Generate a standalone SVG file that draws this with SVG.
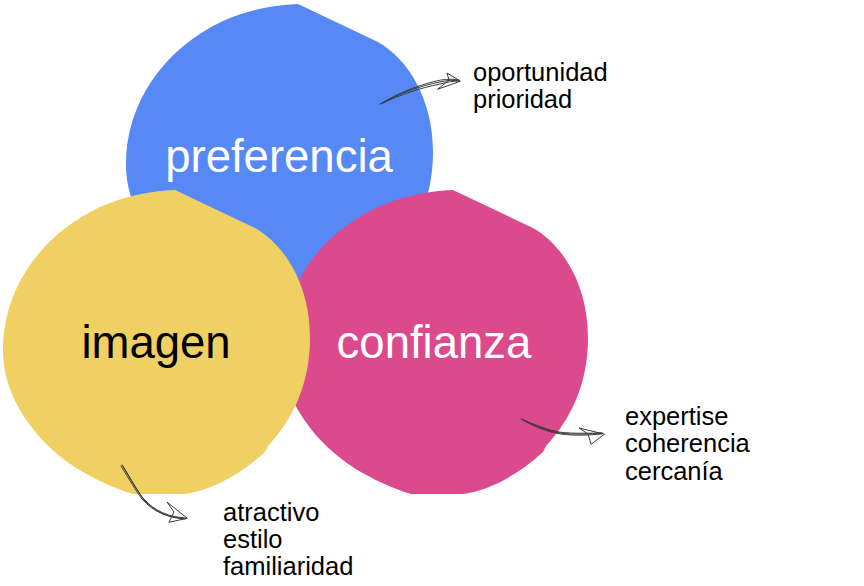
<svg xmlns="http://www.w3.org/2000/svg" width="864" height="586" viewBox="0 0 864 586">
<style>
.big{font-family:"Liberation Sans",Arial,Helvetica,sans-serif;font-size:45.5px;text-anchor:middle}
.small{font-family:"Liberation Sans",Arial,Helvetica,sans-serif;font-size:25.5px;fill:#000}
.sk{fill:none;stroke:#3a3a3a;stroke-width:1;stroke-linecap:round;stroke-linejoin:round}
</style>
<defs>
<path id="blob" d="M175,190 L255,228 C285,245 310,285 310,338 C310,385 292,420 268,446 L265,452 C240,475 212,490 185,494 L133,494 C95,482 55,460 30,425 C8,395 3,370 3,350 C3,290 40,235 100,207 C125,196 150,191 175,190 Z"/>
</defs>
<rect width="864" height="586" fill="#fff"/>
<g id="preferencia">
<use href="#blob" transform="translate(123,-186)" fill="#5689F5"/>
<text class="big" x="279" y="172" fill="#fff">preferencia</text>
</g>
<g id="confianza">
<use href="#blob" transform="translate(278,0)" fill="#DC4A8E"/>
<text class="big" x="434" y="358" fill="#fff">confianza</text>
</g>
<g id="imagen">
<use href="#blob" fill="#F0D062"/>
<text class="big" x="156" y="358" fill="#000">imagen</text>
</g>
<g id="connectors">
<path class="sk" d="M380,104 C400,93 420,86 440,82 C448,80 454,80 459,81"/>
<path class="sk" d="M382,103 C402,91 422,84 441,80 C449,79 454,79 459,80"/>
<path class="sk" d="M381,104 C401,94 421,88 440,84 C448,82 453,81 459,81"/>
<path class="sk" d="M460,81 L447,73 L449,80 L438,89 Z"/>
<path class="sk" d="M522,419 C535,426 548,431 560,433 C575,435 590,434 602,433"/>
<path class="sk" d="M523,420 C536,428 549,432 561,434 C576,436 590,435 602,434"/>
<path class="sk" d="M521,419 C535,425 548,430 559,432 C574,434 590,433 602,433"/>
<path class="sk" d="M604,434 L579,428 L588,434 L591,444 Z"/>
<path class="sk" d="M122,465 C130,478 137,490 143,498 C155,512 170,517 185,518"/>
<path class="sk" d="M123,466 C131,480 138,492 144,500 C156,513 170,518 185,519"/>
<path class="sk" d="M121,466 C129,479 136,491 142,499 C154,513 170,518 184,518"/>
<path class="sk" d="M187,518 L167,502 L174,512 L169,522 Z"/>
</g>
<g id="labels">
<text class="small" x="473" y="81">oportunidad</text>
<text class="small" x="473" y="108">prioridad</text>
<text class="small" x="625" y="425">expertise</text>
<text class="small" x="625" y="452">coherencia</text>
<text class="small" x="625" y="480">cercanía</text>
<text class="small" x="223" y="521">atractivo</text>
<text class="small" x="223" y="548">estilo</text>
<text class="small" x="223" y="575">familiaridad</text>
</g>
</svg>
